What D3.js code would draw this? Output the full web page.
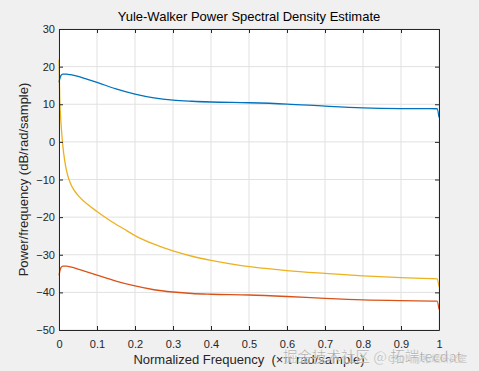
<!DOCTYPE html>
<html>
<head>
<meta charset="utf-8">
<script src="https://cdn.jsdelivr.net/npm/d3@7"></script>
<style>
  body { margin: 0; background: #f0f0f0; }
  text { font-family: "Liberation Sans", Arial, sans-serif; }
</style>
</head>
<body>
<div id="canvas"></div>
<script>
"use strict"

// DATA
let freqB = [0, 0.005, 0.01, 0.02, 0.03, 0.05, 0.075, 0.1, 0.15, 0.2, 0.25, 0.3, 0.35, 0.4, 0.5, 0.6, 0.7, 0.8, 0.9, 0.995, 1]
let blue = [15.8, 17.6, 18.0, 18.0, 17.85, 17.4, 16.6, 15.8, 14.1, 12.7, 11.7, 11.1, 10.8, 10.6, 10.4, 10.05, 9.5, 9.05, 8.85, 8.8, 6.5]
let red = [-35.5, -33.4, -33.0, -33.0, -33.2, -33.8, -34.6, -35.4, -37.0, -38.3, -39.3, -39.9, -40.3, -40.5, -40.7, -41.1, -41.6, -42.0, -42.2, -42.3, -44.5]

let freqY = [0, 0.002, 0.004, 0.007, 0.01, 0.015, 0.02, 0.03, 0.04, 0.05, 0.075, 0.1, 0.134, 0.17, 0.2, 0.25, 0.3, 0.35, 0.4, 0.476, 0.55, 0.6, 0.7, 0.8, 0.9, 0.995, 1]
let yellow = [21.8, 11.5, 7.0, 2.5, -1.0, -5.0, -7.8, -11.0, -12.9, -14.2, -16.6, -18.5, -20.9, -23.1, -24.9, -27.2, -29.0, -30.4, -31.5, -32.8, -33.7, -34.2, -34.95, -35.6, -36.1, -36.4, -38.5]

let xTicks = [0, 0.1, 0.2, 0.3, 0.4, 0.5, 0.6, 0.7, 0.8, 0.9, 1]
let yTicks = [-50, -40, -30, -20, -10, 0, 10, 20, 30]

/* drawing config */
let svgWidth = 479;
let svgHeight = 371;
let marginLeft = 59;
let marginRight = 40;
let marginTop = 29;
let marginBottom = 41;

let svg = d3.select("#canvas")
  .append("svg")
  .attr("width", svgWidth)
  .attr("height", svgHeight)
  .style("display", "block");

svg.append("rect")
  .attr("width", svgWidth)
  .attr("height", svgHeight)
  .attr("fill", "#f0f0f0");

let xScale = d3.scaleLinear()
  .domain([0, 1])
  .range([marginLeft, svgWidth - marginRight]);

let yScale = d3.scaleLinear()
  .domain([-50, 30])
  .range([svgHeight - marginBottom, marginTop]);

let plotW = svgWidth - marginRight - marginLeft;
let plotH = svgHeight - marginBottom - marginTop;

// plot area
svg.append("rect")
  .attr("x", marginLeft)
  .attr("y", marginTop)
  .attr("width", plotW)
  .attr("height", plotH)
  .attr("fill", "white");

// grid
svg.selectAll(".xgrid")
  .data(xTicks)
  .join("line")
  .attr("x1", d => xScale(d))
  .attr("x2", d => xScale(d))
  .attr("y1", marginTop)
  .attr("y2", marginTop + plotH)
  .attr("stroke", "#e1e1e1")
  .attr("stroke-width", 1);

svg.selectAll(".ygrid")
  .data(yTicks)
  .join("line")
  .attr("x1", marginLeft)
  .attr("x2", marginLeft + plotW)
  .attr("y1", d => yScale(d))
  .attr("y2", d => yScale(d))
  .attr("stroke", "#e1e1e1")
  .attr("stroke-width", 1);

// curves
let series = [
  { f: freqB, values: blue, color: "#0072BD" },
  { f: freqB, values: red, color: "#D95319" },
  { f: freqY, values: yellow, color: "#EDB120" }
];

for (let i = 0; i < series.length; i++) {
  let s = series[i];
  let line = d3.line()
    .x((d, j) => xScale(s.f[j]))
    .y(d => yScale(d))
    .curve(d3.curveMonotoneX);
  svg.append("path")
    .attr("d", line(s.values))
    .attr("fill", "none")
    .attr("stroke", s.color)
    .attr("stroke-width", 1.3);
}

// axes (MATLAB box style with inward ticks)
let axisColor = "#262626";
let tickLen = 4;
let minus = d => String(d).replace("-", "\u2212");

let xBottom = svg.append("g")
  .attr("transform", "translate(0," + (marginTop + plotH) + ")")
  .call(d3.axisBottom(xScale).tickValues(xTicks).tickSizeInner(-tickLen).tickSizeOuter(0).tickPadding(10)
    .tickFormat(d => d === 0 || d === 1 ? String(d) : d3.format(".1f")(d)));
let xTop = svg.append("g")
  .attr("transform", "translate(0," + marginTop + ")")
  .call(d3.axisTop(xScale).tickValues(xTicks).tickSizeInner(-tickLen).tickSizeOuter(0).tickFormat(""));
let yLeft = svg.append("g")
  .attr("transform", "translate(" + marginLeft + ",0)")
  .call(d3.axisLeft(yScale).tickValues(yTicks).tickSizeInner(-tickLen).tickSizeOuter(0).tickPadding(4)
    .tickFormat(minus));
let yRight = svg.append("g")
  .attr("transform", "translate(" + (marginLeft + plotW) + ",0)")
  .call(d3.axisRight(yScale).tickValues(yTicks).tickSizeInner(-tickLen).tickSizeOuter(0).tickFormat(""));

[xBottom, xTop, yLeft, yRight].forEach(function (g) {
  g.selectAll("path").attr("stroke", axisColor).attr("stroke-width", 1);
  g.selectAll("line").attr("stroke", axisColor);
  g.selectAll("text")
    .attr("fill", axisColor)
    .style("font-family", "'Liberation Sans', Arial, sans-serif")
    .style("font-size", "11px");
});

// title and labels
svg.append("text")
  .attr("x", marginLeft + plotW / 2)
  .attr("y", 21)
  .attr("text-anchor", "middle")
  .attr("fill", "#000")
  .style("font-size", "13px")
  .text("Yule-Walker Power Spectral Density Estimate");

svg.append("text")
  .attr("x", marginLeft + plotW / 2)
  .attr("y", 364)
  .attr("text-anchor", "middle")
  .attr("fill", axisColor)
  .style("font-size", "13px")
  .style("white-space", "pre")
  .text("Normalized Frequency  (\u00d7\u03c0 rad/sample)");

svg.append("text")
  .attr("transform", "translate(28," + (marginTop + plotH / 2) + ") rotate(-90)")
  .attr("text-anchor", "middle")
  .attr("fill", axisColor)
  .style("font-size", "13px")
  .text("Power/frequency (dB/rad/sample)");

// watermark
svg.append("text")
  .attr("x", 388)
  .attr("y", 362)
  .attr("fill", "#c8c8c8")
  .style("font-family", "'Noto Sans CJK SC', sans-serif")
  .style("font-size", "9px")
  .text("CSDN @拓端研究室");

svg.append("text")
  .attr("x", 283)
  .attr("y", 362)
  .attr("fill", "#7a7a7a")
  .attr("fill-opacity", 0.8)
  .attr("stroke", "white")
  .attr("stroke-width", 0.6)
  .attr("stroke-opacity", 0.7)
  .style("font-family", "'Noto Sans CJK SC', sans-serif")
  .style("font-size", "14.5px")
  .text("掘金技术社区 @ 拓端tecdat");
</script>
</body>
</html>
